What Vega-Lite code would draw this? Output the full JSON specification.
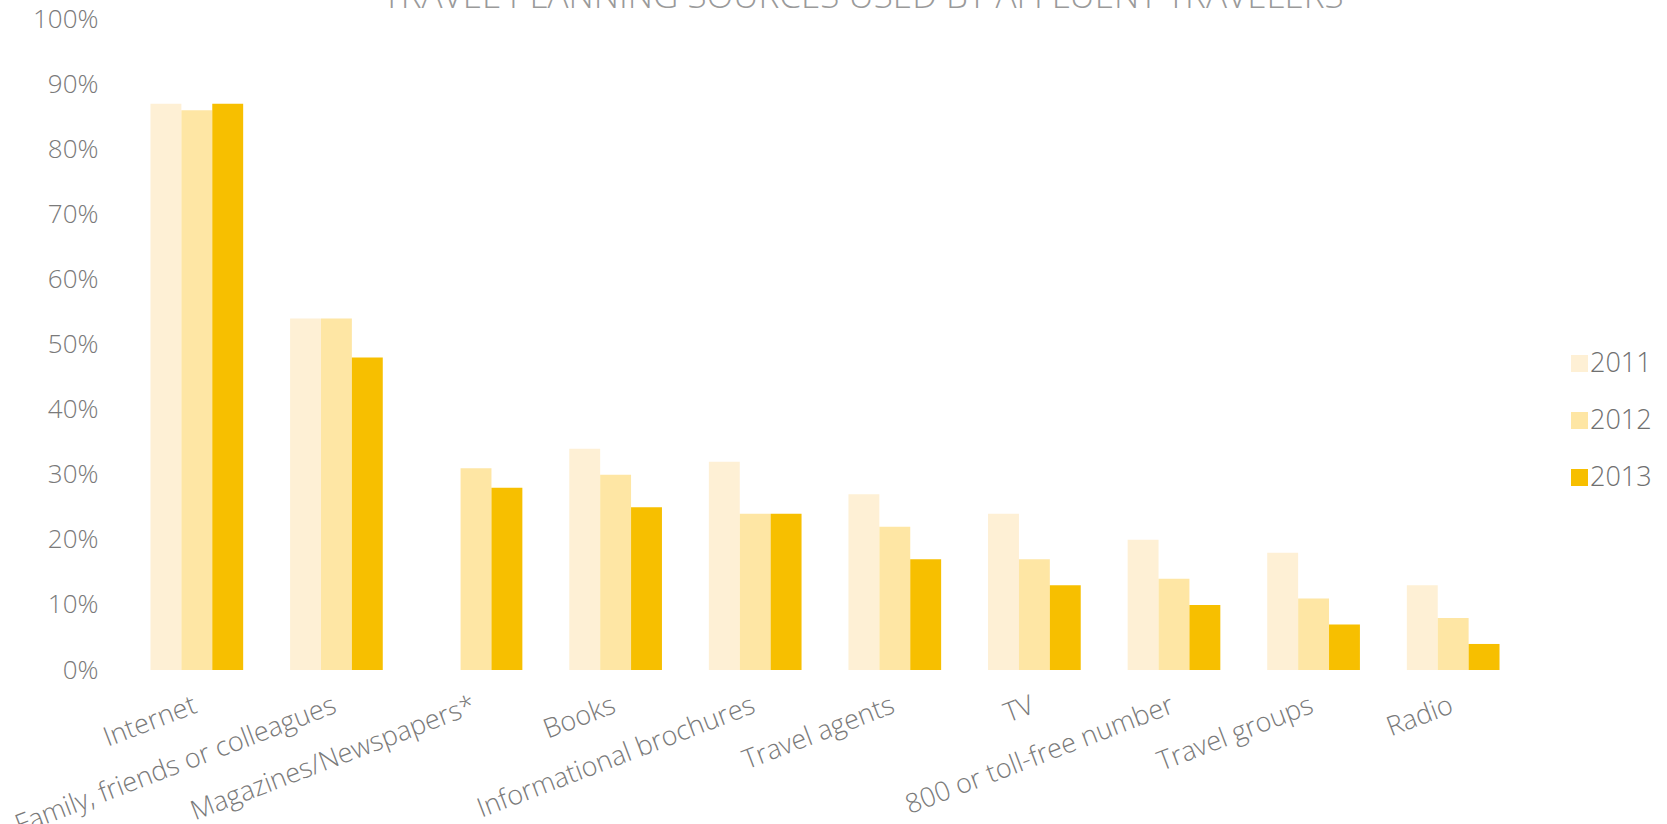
{
  "$schema": "https://vega.github.io/schema/vega-lite/v6.json",
  "width": 1430,
  "height": 651,
  "autosize": {"type": "none"},
  "padding": {"left": 110, "top": 19, "right": 127, "bottom": 154},
  "background": "white",
  "title": {
    "text": "TRAVEL PLANNING SOURCES USED BY AFFLUENT TRAVELERS",
    "anchor": "middle",
    "frame": "group",
    "baseline": "alphabetic",
    "offset": 0,
    "dy": 37,
    "dx": 38,
    "font": "Open Sans",
    "fontSize": 35,
    "fontWeight": 300,
    "color": "#9a9a9a",
    "letterSpacing": 4.3
  },
  "data": {
    "values": [
      {"source": "Internet", "year": "2011", "share": 0.87},
      {"source": "Internet", "year": "2012", "share": 0.86},
      {"source": "Internet", "year": "2013", "share": 0.87},
      {"source": "Family, friends or colleagues", "year": "2011", "share": 0.54},
      {"source": "Family, friends or colleagues", "year": "2012", "share": 0.54},
      {"source": "Family, friends or colleagues", "year": "2013", "share": 0.48},
      {"source": "Magazines/Newspapers*", "year": "2012", "share": 0.31},
      {"source": "Magazines/Newspapers*", "year": "2013", "share": 0.28},
      {"source": "Books", "year": "2011", "share": 0.34},
      {"source": "Books", "year": "2012", "share": 0.30},
      {"source": "Books", "year": "2013", "share": 0.25},
      {"source": "Informational brochures", "year": "2011", "share": 0.32},
      {"source": "Informational brochures", "year": "2012", "share": 0.24},
      {"source": "Informational brochures", "year": "2013", "share": 0.24},
      {"source": "Travel agents", "year": "2011", "share": 0.27},
      {"source": "Travel agents", "year": "2012", "share": 0.22},
      {"source": "Travel agents", "year": "2013", "share": 0.17},
      {"source": "TV", "year": "2011", "share": 0.24},
      {"source": "TV", "year": "2012", "share": 0.17},
      {"source": "TV", "year": "2013", "share": 0.13},
      {"source": "800 or toll-free number", "year": "2011", "share": 0.20},
      {"source": "800 or toll-free number", "year": "2012", "share": 0.14},
      {"source": "800 or toll-free number", "year": "2013", "share": 0.10},
      {"source": "Travel groups", "year": "2011", "share": 0.18},
      {"source": "Travel groups", "year": "2012", "share": 0.11},
      {"source": "Travel groups", "year": "2013", "share": 0.07},
      {"source": "Radio", "year": "2011", "share": 0.13},
      {"source": "Radio", "year": "2012", "share": 0.08},
      {"source": "Radio", "year": "2013", "share": 0.04}
    ]
  },
  "mark": {"type": "bar"},
  "encoding": {
    "x": {
      "field": "source",
      "type": "nominal",
      "sort": null,
      "scale": {"paddingInner": 0.336, "paddingOuter": 0.29},
      "axis": {
        "title": null,
        "labelAngle": -21,
        "labelAlign": "right",
        "labelBaseline": "top",
        "labelPadding": 22,
        "labelOffset": -6,
        "ticks": false,
        "domain": false,
        "labelFont": "Open Sans",
        "labelFontWeight": 300,
        "labelFontSize": 27,
        "labelColor": "#7a7a7a",
        "labelLimit": 600
      }
    },
    "xOffset": {
      "field": "year",
      "type": "nominal",
      "scale": {"paddingInner": 0, "paddingOuter": 0}
    },
    "y": {
      "field": "share",
      "type": "quantitative",
      "scale": {"domain": [0, 1], "nice": false},
      "axis": {
        "title": null,
        "format": ".0%",
        "values": [0, 0.1, 0.2, 0.3, 0.4, 0.5, 0.6, 0.7, 0.8, 0.9, 1],
        "grid": false,
        "ticks": false,
        "domain": false,
        "labelPadding": 12,
        "labelFont": "Open Sans",
        "labelFontWeight": 300,
        "labelFontSize": 26,
        "labelColor": "#7a7a7a"
      }
    },
    "color": {
      "field": "year",
      "type": "nominal",
      "scale": {"domain": ["2011", "2012", "2013"], "range": ["#FEF0D5", "#FEE6A4", "#F7BF00"]},
      "legend": {
        "title": null,
        "orient": "none",
        "legendX": 1456,
        "legendY": 331,
        "symbolType": "square",
        "symbolSize": 289,
        "symbolStrokeWidth": 0,
        "labelFont": "Open Sans",
        "labelFontWeight": 300,
        "labelFontSize": 27,
        "labelColor": "#707070",
        "labelOffset": -3,
        "rowPadding": 29
      }
    }
  },
  "config": {"view": {"stroke": null}}
}
